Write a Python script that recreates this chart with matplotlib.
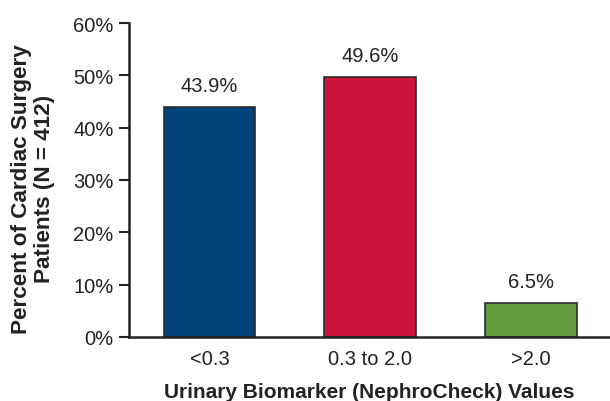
import matplotlib.pyplot as plt

categories = ['<0.3', '0.3 to 2.0', '>2.0']
values = [43.9, 49.6, 6.5]
labels = ['43.9%', '49.6%', '6.5%']
colors = ['#02447a', '#cc133c', '#629a40']
yticks = [0, 10, 20, 30, 40, 50, 60]

plt.rcParams['font.family'] = ['Liberation Sans', 'DejaVu Sans']

fig = plt.figure(figsize=(6.1, 4.02), dpi=100)
ax = fig.add_axes([129 / 610, (402 - 338) / 402, 481 / 610, (338 - 24) / 402])

x = range(len(categories))
bars = ax.bar(x, values, width=0.57, color=colors, edgecolor='#2b2b2b', linewidth=1.2)
for b, lab in zip(bars, labels):
    ax.text(b.get_x() + b.get_width() / 2, b.get_height() + 3.05, lab,
            ha='center', va='baseline', fontsize=14.5, color='#222222')

ax.set_xlim(-0.5, 2.49)
ax.set_ylim(0, 60)
ax.set_yticks(yticks)
ax.set_yticklabels([f'{t}%' for t in yticks])
ax.set_xticks(list(x))
ax.set_xticklabels(categories)
ax.tick_params(axis='y', direction='out', length=7, width=1.5, pad=4,
               labelsize=14.5, colors='#222222')
ax.tick_params(axis='x', length=0, labelsize=14.5, pad=9, colors='#222222')

for s in ['top', 'right']:
    ax.spines[s].set_visible(False)
for s in ['left', 'bottom']:
    ax.spines[s].set_linewidth(1.8)
    ax.spines[s].set_color('#222222')

ax.set_xlabel('Urinary Biomarker (NephroCheck) Values', fontsize=15,
              fontweight='bold', color='#222222')
ax.xaxis.set_label_coords(0.5, -0.172)
ax.xaxis.label.set_verticalalignment('center')
ax.set_ylabel('Percent of Cardiac Surgery\nPatients (N = 412)', fontsize=16.2,
              fontweight='bold', color='#222222', linespacing=1.1)
ax.yaxis.set_label_coords(-0.2, 0.475)
ax.yaxis.label.set_verticalalignment('center')

fig.savefig('out.png', dpi=100)
